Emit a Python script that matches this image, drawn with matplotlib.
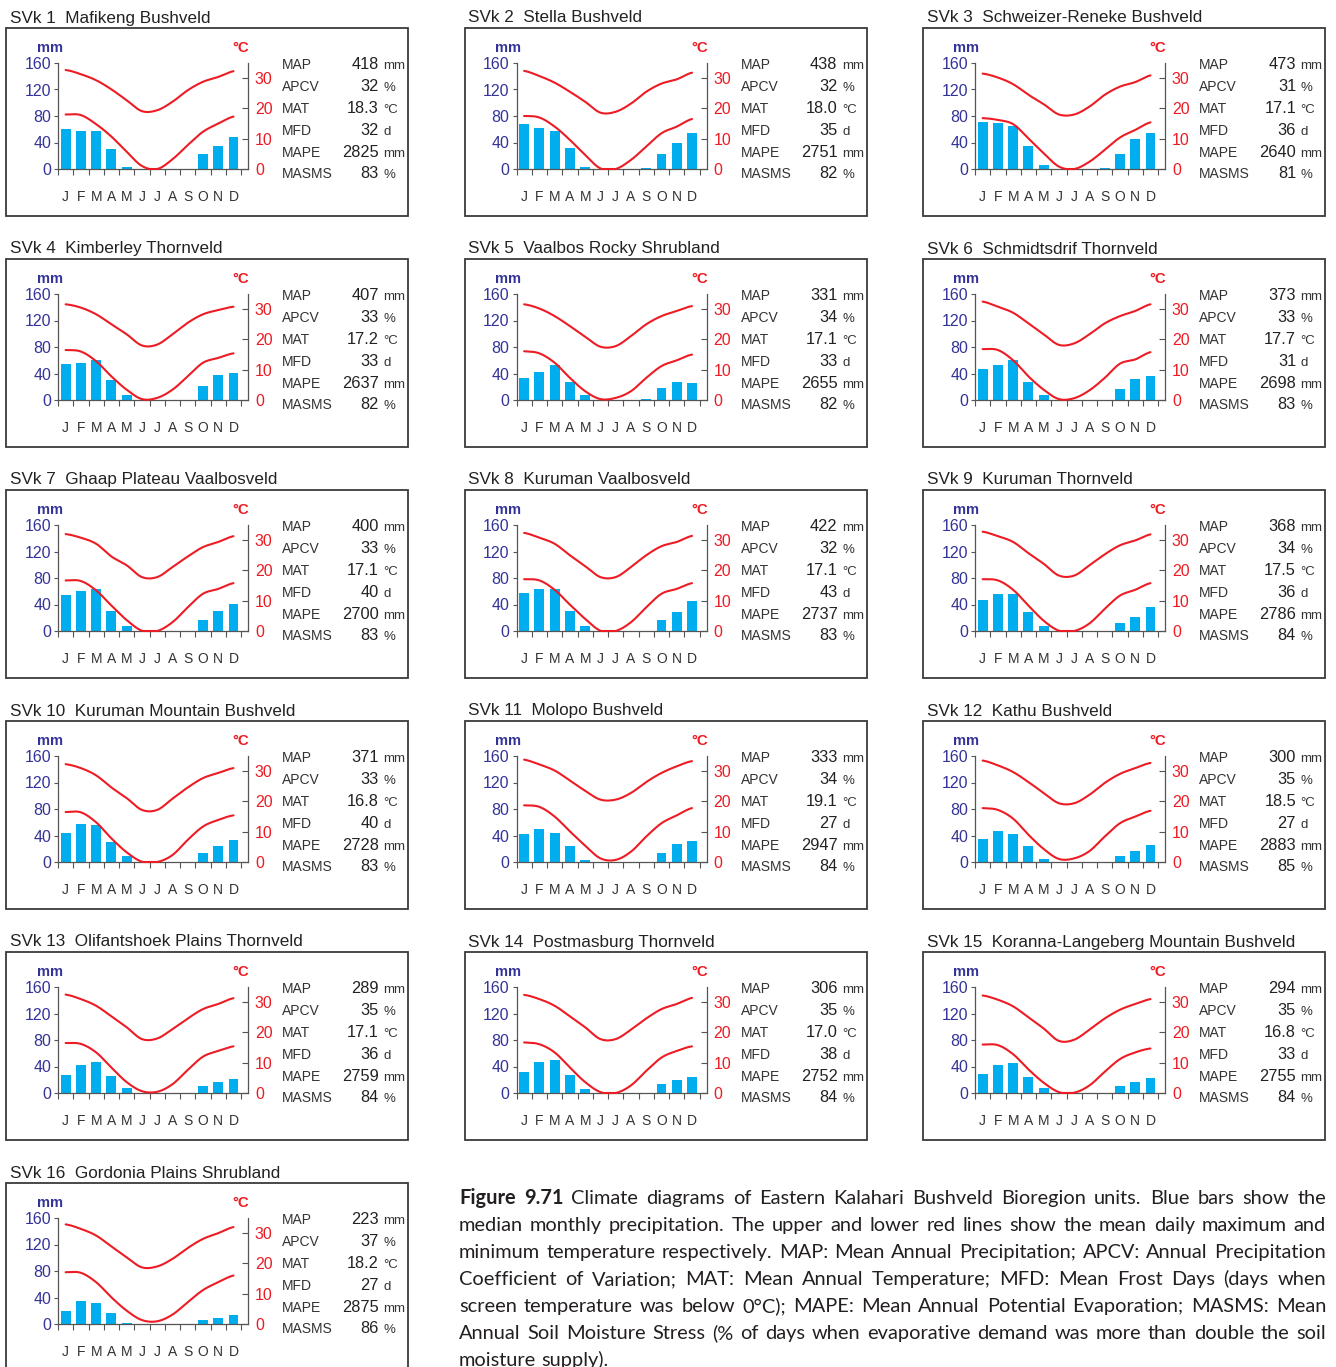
import numpy as np
import matplotlib
matplotlib.use('Agg')
import matplotlib.pyplot as plt
from matplotlib.patches import Rectangle

# unit names and summary statistics
names = ['Mafikeng Bushveld', 'Stella Bushveld', 'Schweizer-Reneke Bushveld',
         'Kimberley Thornveld', 'Vaalbos Rocky Shrubland', 'Schmidtsdrif Thornveld',
         'Ghaap Plateau Vaalbosveld', 'Kuruman Vaalbosveld', 'Kuruman Thornveld',
         'Kuruman Mountain Bushveld', 'Molopo Bushveld', 'Kathu Bushveld',
         'Olifantshoek Plains Thornveld', 'Postmasburg Thornveld',
         'Koranna-Langeberg Mountain Bushveld', 'Gordonia Plains Shrubland']
map_mm = [418, 438, 473, 407, 331, 373, 400, 422, 368, 371, 333, 300, 289, 306, 294, 223]
apcv = [32, 32, 31, 33, 34, 33, 33, 32, 34, 33, 34, 35, 35, 35, 35, 37]
mat = ['18.3', '18.0', '17.1', '17.2', '17.1', '17.7', '17.1', '17.1', '17.5', '16.8',
       '19.1', '18.5', '17.1', '17.0', '16.8', '18.2']
mfd = [32, 35, 36, 33, 33, 31, 40, 43, 36, 40, 27, 27, 36, 38, 33, 27]
mape = [2825, 2751, 2640, 2637, 2655, 2698, 2700, 2737, 2786, 2728, 2947, 2883, 2759, 2752, 2755, 2875]
masms = [83, 82, 81, 82, 82, 83, 83, 83, 84, 83, 84, 85, 84, 84, 84, 86]

months = ['J', 'F', 'M', 'A', 'M', 'J', 'J', 'A', 'S', 'O', 'N', 'D']

# median monthly precipitation (mm)
rain = [
    [61, 58, 57, 30, 3, 0, 0, 0, 0, 23, 35, 49],
    [68, 62, 58, 32, 3.5, 0, 0, 0, 1.5, 23, 39, 55],
    [71, 70, 65, 35, 6, 0, 0, 0, 1.5, 23, 45.5, 55],
    [54, 56, 61, 30, 7, 0, 0, 0, 0.5, 21, 38, 41],
    [33, 42, 53, 27, 7, 0, 0, 0, 1, 18, 27, 25],
    [47, 53, 60, 27, 7, 0, 0, 0, 0, 16, 31, 36],
    [54, 61, 64, 30, 7, 0, 0, 0, 0, 17, 30, 41],
    [58, 64, 64, 30, 7, 0, 0, 0, 0, 17, 29, 45],
    [47, 56, 56, 28, 7, 0, 0, 0, 0, 12, 21, 36],
    [44, 57, 56, 30, 9, 0, 0, 0, 0, 13, 24, 33],
    [42, 50, 44, 24, 2.5, 0, 0, 0, 0, 13, 27, 31],
    [34.5, 47, 42, 24, 4, 0, 0, 0, 0, 9, 17, 26],
    [27, 42, 47, 25, 7, 0, 0, 0, 0, 10, 16, 21],
    [31, 47, 50, 27, 5.5, 0, 0, 0, 0.5, 13, 19, 24],
    [28.5, 42, 45, 24, 7, 0, 0, 0, 0, 10, 16, 22],
    [20, 34, 31, 17, 2, 0, 0, 0, 0, 6.5, 9.5, 14],
]

# mean daily maximum temperature (deg C)
tmax = [
    [32.7, 31.3, 29.3, 26.3, 22.7, 19.1, 19.4, 22.2, 26.0, 28.8, 30.4, 32.3],
    [32.4, 30.7, 28.5, 25.5, 22.2, 18.6, 18.9, 21.6, 25.5, 28.2, 29.6, 31.8],
    [31.5, 30.2, 28.0, 24.5, 21.4, 18.0, 18.0, 20.6, 24.5, 27.2, 28.7, 30.9],
    [31.6, 30.5, 28.3, 25.0, 21.7, 18.0, 18.3, 21.7, 25.5, 28.3, 29.7, 30.8],
    [31.6, 30.2, 27.7, 24.4, 20.9, 17.6, 17.8, 21.1, 25.0, 27.7, 29.4, 31.0],
    [32.5, 30.8, 28.8, 25.3, 21.7, 18.2, 18.7, 21.7, 25.3, 27.7, 29.4, 31.6],
    [32.0, 30.8, 28.8, 24.6, 21.7, 17.8, 17.8, 21.1, 24.6, 27.7, 29.4, 31.3],
    [32.4, 30.8, 28.8, 25.0, 21.4, 17.8, 17.8, 21.1, 25.0, 28.0, 29.4, 31.4],
    [32.8, 31.3, 29.4, 25.7, 22.2, 18.3, 18.3, 21.7, 25.3, 28.3, 29.9, 31.9],
    [32.3, 31.0, 28.6, 24.6, 21.1, 17.2, 17.2, 20.9, 24.6, 27.7, 29.4, 31.0],
    [33.8, 32.2, 30.2, 26.9, 23.5, 20.6, 20.6, 22.8, 26.4, 29.4, 31.6, 33.3],
    [33.5, 31.9, 29.7, 26.4, 22.8, 19.4, 19.4, 22.2, 26.1, 29.1, 31.0, 32.7],
    [32.5, 31.0, 28.8, 25.3, 21.7, 17.8, 18.0, 21.1, 24.6, 27.7, 29.4, 31.3],
    [32.4, 31.0, 28.8, 25.3, 21.7, 17.8, 17.8, 20.9, 24.6, 27.7, 29.4, 31.4],
    [32.2, 30.8, 28.6, 25.0, 21.3, 17.2, 17.6, 20.9, 24.6, 27.5, 29.4, 31.0],
    [32.9, 31.4, 29.2, 25.6, 22.0, 18.7, 19.0, 21.5, 25.1, 28.1, 30.0, 32.0],
]

# mean daily minimum temperature (deg C)
tmin = [
    [18.0, 17.8, 14.8, 10.7, 5.7, 1.0, 0.0, 3.2, 7.9, 12.3, 15.0, 17.3],
    [17.5, 17.0, 14.0, 9.6, 4.6, 0.2, 0.0, 3.0, 7.4, 11.8, 14.0, 16.5],
    [16.8, 16.2, 14.8, 10.1, 5.2, 0.8, 0.0, 2.4, 6.3, 10.4, 12.9, 15.4],
    [16.5, 16.0, 12.8, 7.8, 3.4, 0.3, 0.7, 3.4, 7.8, 12.3, 13.9, 15.4],
    [16.1, 15.4, 12.3, 7.3, 2.9, 0.3, 0.7, 2.9, 7.3, 11.2, 13.1, 15.0],
    [16.8, 16.5, 13.1, 7.8, 3.4, 0.3, 0.6, 3.2, 7.3, 12.0, 13.4, 15.8],
    [16.7, 16.5, 13.4, 8.4, 3.6, 0.1, 0.0, 2.9, 7.8, 12.3, 13.9, 15.8],
    [17.1, 16.7, 13.6, 8.7, 4.0, 0.1, 0.0, 2.9, 7.8, 12.3, 13.9, 15.8],
    [17.1, 16.7, 13.6, 8.4, 3.4, 0.1, 0.0, 2.5, 7.3, 11.7, 13.6, 15.8],
    [16.5, 16.4, 13.1, 7.8, 3.2, 0.1, 0.0, 2.3, 7.3, 11.7, 13.9, 15.4],
    [18.7, 18.2, 15.0, 10.1, 5.4, 1.2, 0.7, 3.4, 8.4, 12.8, 15.4, 17.8],
    [17.8, 17.2, 14.3, 9.0, 4.3, 1.0, 1.2, 3.6, 8.4, 12.8, 15.0, 16.9],
    [16.5, 16.2, 13.4, 8.4, 3.6, 0.6, 0.4, 2.9, 7.6, 12.0, 13.9, 15.4],
    [16.7, 16.1, 13.4, 8.4, 3.6, 0.3, 0.0, 2.5, 7.3, 11.7, 13.9, 15.4],
    [16.0, 15.8, 12.8, 7.8, 3.4, 0.3, 0.1, 2.5, 7.0, 11.2, 13.4, 14.7],
    [17.1, 16.9, 13.8, 8.8, 4.4, 1.3, 0.9, 3.1, 7.2, 11.2, 13.8, 16.0],
]

caption = [
    'Figure 9.71 Climate diagrams of Eastern Kalahari Bushveld Bioregion units. Blue bars show the',
    'median monthly precipitation. The upper and lower red lines show the mean daily maximum and',
    'minimum temperature respectively. MAP: Mean Annual Precipitation; APCV: Annual Precipitation',
    'Coefficient of Variation; MAT: Mean Annual Temperature; MFD: Mean Frost Days (days when',
    'screen temperature was below 0°C); MAPE: Mean Annual Potential Evaporation; MASMS: Mean',
    'Annual Soil Moisture Stress (% of days when evaporative demand was more than double the soil',
    'moisture supply).',
]

BLUE = '#00aeef'
RED = '#ed1c24'
NAVY = '#333399'
GREY = '#333333'
FONT = ['Liberation Sans', 'DejaVu Sans']

W, H = 1336, 1367
fig = plt.figure(figsize=(W / 100, H / 100), dpi=100)
fig.patch.set_facecolor('white')


def ftext(x, y, s, **kw):
    return fig.text(x / W, 1 - y / H, s, **kw)


def smooth(vals, n=24):
    # Catmull-Rom curve through the monthly values
    x = np.arange(12) + 0.5
    p = np.concatenate([[vals[0]], vals, [vals[-1]]])
    xs, ys = [], []
    t = np.linspace(0, 1, n, endpoint=False)
    for i in range(11):
        p0, p1, p2, p3 = p[i:i + 4]
        ys.append(0.5 * (2 * p1 + (-p0 + p2) * t + (2 * p0 - 5 * p1 + 4 * p2 - p3) * t ** 2
                         + (-p0 + 3 * p1 - 3 * p2 + p3) * t ** 3))
        xs.append(x[i] + t)
    xs.append([x[-1]])
    ys.append([vals[-1]])
    return np.concatenate(xs), np.clip(np.concatenate(ys), 0, None)


col_x = [6, 464.5, 923]
stat_rows = [41.3, 63.3, 85.0, 106.8, 128.6, 150.3]

for k in range(16):
    bx = col_x[k % 3]
    by = 28 + 231 * (k // 3)

    fig.patches.append(Rectangle((bx / W, 1 - (by + 188) / H), 402 / W, 188 / H,
                                 transform=fig.transFigure, fill=False,
                                 edgecolor='#3a3a3a', lw=1.3))
    ftext(bx + 4, by - 5.5, 'SVk %d  %s' % (k + 1, names[k]), family=FONT,
          fontsize=12.3, color='#222222', va='baseline')

    ax = fig.add_axes([(bx + 52) / W, 1 - (by + 141) / H, 190 / W, 106 / H])
    ax.set_xlim(0, 12.45)
    ax.set_ylim(0, 160)
    ax.bar(np.arange(12) + 0.5, rain[k], width=0.65, color=BLUE, zorder=2)
    for s in ['top', 'right']:
        ax.spines[s].set_visible(False)
    for s in ['left', 'bottom']:
        ax.spines[s].set_color('#555555')
        ax.spines[s].set_linewidth(0.9)
    ax.set_xticks(range(13))
    ax.set_xticklabels([])
    ax.tick_params(axis='x', direction='out', length=4.5, width=0.8, color='#555555')
    ax.set_yticks([0, 40, 80, 120, 160])
    ax.tick_params(axis='y', direction='out', length=3, width=0.8, color='#555555',
                   labelcolor=NAVY, labelsize=11.5, pad=2)
    for lab in ax.get_yticklabels():
        lab.set_family(FONT)
    for i, m in enumerate(months):
        ax.text(i + 0.5, -0.262, m, transform=ax.get_xaxis_transform(), ha='center',
                va='center', family=FONT, fontsize=10, color=GREY)

    ax2 = ax.twinx()
    ax2.set_ylim(0, 35)
    for s in ['top', 'left', 'bottom']:
        ax2.spines[s].set_visible(False)
    ax2.spines['right'].set_color('#555555')
    ax2.spines['right'].set_linewidth(0.9)
    ax2.set_yticks([0, 10, 20, 30])
    ax2.tick_params(axis='y', direction='in', length=4, width=0.8, color='#555555',
                    labelcolor=RED, labelsize=11.5, pad=5)
    for lab in ax2.get_yticklabels():
        lab.set_family(FONT)
    for series in (tmax[k], tmin[k]):
        xs, ys = smooth(np.array(series, dtype=float))
        ax2.plot(xs, ys, color=RED, lw=1.5, solid_capstyle='round', clip_on=False)

    ftext(bx + 43.5, by + 20, 'mm', family=FONT, fontsize=10.5, weight='bold',
          color=NAVY, ha='center', va='center')
    ftext(bx + 235, by + 20, '°C', family=FONT, fontsize=10.8, weight='bold',
          color=RED, ha='center', va='center')

    labels = ['MAP', 'APCV', 'MAT', 'MFD', 'MAPE', 'MASMS']
    values = [str(map_mm[k]), str(apcv[k]), mat[k], str(mfd[k]), str(mape[k]), str(masms[k])]
    units = ['mm', '%', '°C', 'd', 'mm', '%']
    for lab, val, unit, yy in zip(labels, values, units, stat_rows):
        ftext(bx + 276, by + yy, lab, family=FONT, fontsize=10, color=GREY, va='baseline')
        ftext(bx + 373, by + yy, val, family=FONT, fontsize=11.8, color='#222222',
              ha='right', va='baseline')
        ftext(bx + 377.5, by + yy, unit, family=FONT, fontsize=9.5, color=GREY, va='baseline')

# justified caption block
renderer = fig.canvas.get_renderer()
cap_x0, cap_x1 = 459, 1326
for li, line in enumerate(caption):
    words = line.split(' ')
    yb = 1204 + 27 * li
    texts = []
    for wi, w in enumerate(words):
        bold = li == 0 and wi < 2
        texts.append(ftext(0, yb, w, family=['Lato', 'DejaVu Sans'], fontsize=14.4,
                           weight='bold' if bold else 'normal', color='#231f20',
                           va='baseline'))
    widths = [t.get_window_extent(renderer).width for t in texts]
    if li < len(caption) - 1:
        gap = (cap_x1 - cap_x0 - sum(widths)) / (len(words) - 1)
    else:
        gap = 5
    x = cap_x0
    for t, w in zip(texts, widths):
        t.set_position((x / W, 1 - yb / H))
        x += w + gap

fig.savefig('out.png', dpi=100)
